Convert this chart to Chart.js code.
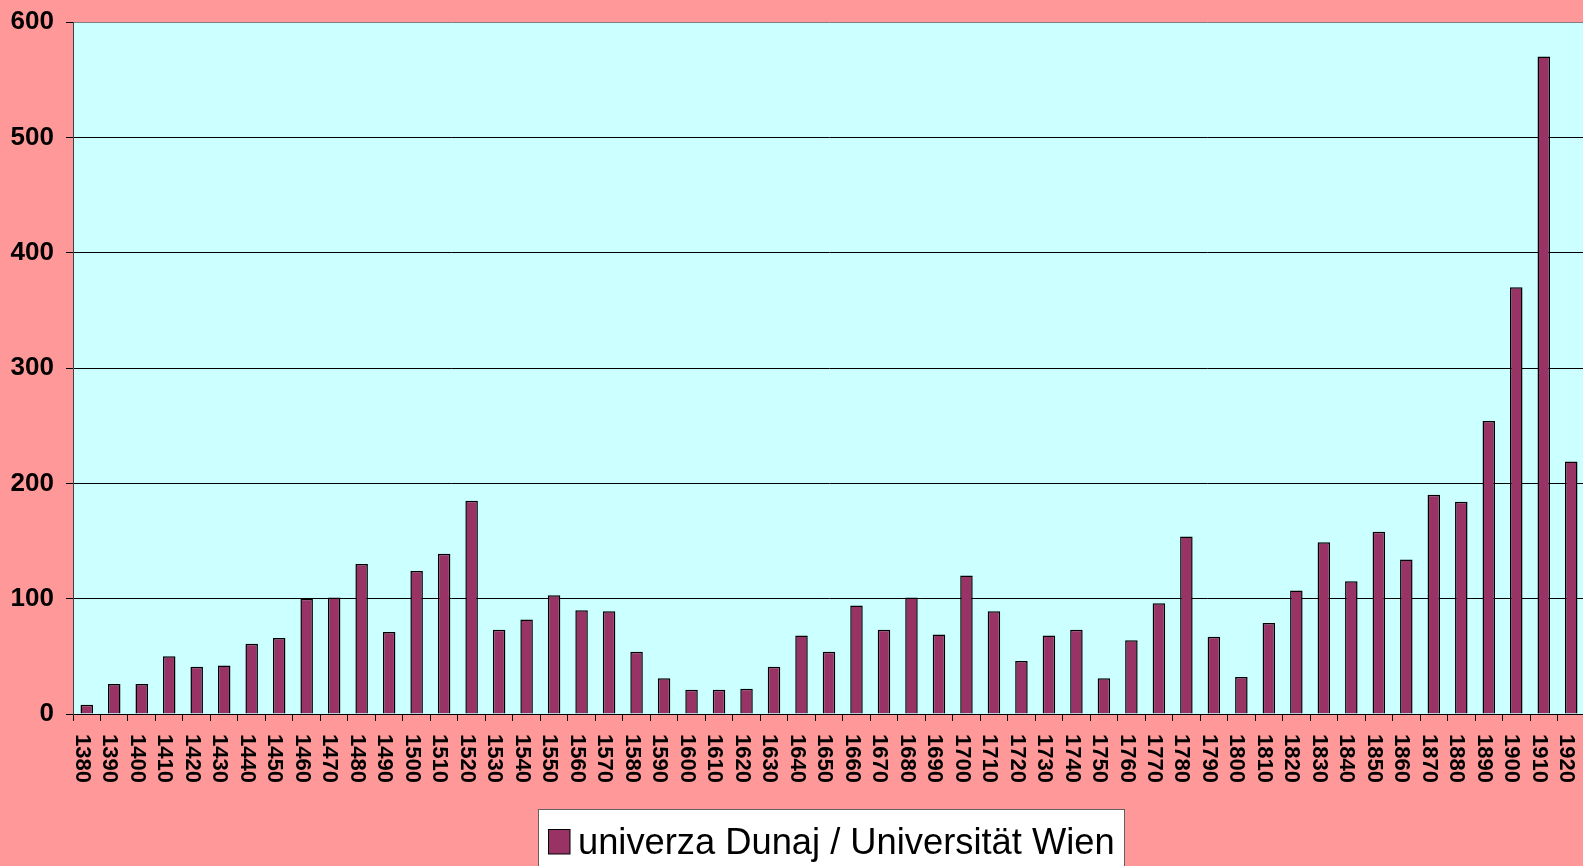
<!DOCTYPE html>
<html>
<head>
<meta charset="utf-8">
<script src="https://cdn.jsdelivr.net/npm/chart.js@4.4.1/dist/chart.umd.min.js"></script>
<style>
  html, body { margin: 0; padding: 0; overflow: hidden; background: #FF9999; }
  #wrap { width: 1600px; height: 866px; }
</style>
</head>
<body>
<div id="wrap"><canvas id="c" width="1600" height="866"></canvas></div>
<script>
const categories = ['1380','1390','1400','1410','1420','1430','1440','1450','1460','1470',
  '1480','1490','1500','1510','1520','1530','1540','1550','1560','1570',
  '1580','1590','1600','1610','1620','1630','1640','1650','1660','1670',
  '1680','1690','1700','1710','1720','1730','1740','1750','1760','1770',
  '1780','1790','1800','1810','1820','1830','1840','1850','1860','1870',
  '1880','1890','1900','1910','1920'];
const values = [8,26,26,50,41,42,61,66,100,101,
  130,71,124,139,185,73,82,103,90,89,
  54,31,21,21,22,41,68,54,94,73,
  101,69,120,89,46,68,73,31,64,96,
  154,67,32,79,107,149,115,158,134,190,
  184,254,370,570,219];
const seriesName = 'univerza Dunaj / Universität Wien';
const yTickValues = [0,100,200,300,400,500,600];

const FONT = '"Liberation Sans", Arial, sans-serif';

const bgPlugin = {
  id: 'bg',
  beforeDraw(chart) {
    const ctx = chart.ctx, a = chart.chartArea;
    ctx.save();
    ctx.fillStyle = '#FF9999';
    ctx.fillRect(0, 0, chart.width, chart.height);
    ctx.fillStyle = '#CCFFFF';
    ctx.fillRect(a.left, a.top, a.right - a.left, a.bottom - a.top);
    ctx.restore();
  }
};

const labelsPlugin = {
  id: 'xlabels',
  afterDraw(chart) {
    const ctx = chart.ctx, xs = chart.scales.x;
    ctx.save();
    ctx.font = 'bold 22px ' + FONT;
    ctx.fillStyle = '#000';
    ctx.textAlign = 'left';
    ctx.textBaseline = 'alphabetic';
    chart.data.labels.forEach((lab, i) => {
      const px = xs.getPixelForValue(i);
      ctx.save();
      ctx.translate(px - 10.9, xs.top + 20);
      ctx.rotate(Math.PI / 2);
      ctx.fillText(lab, 0, 0);
      ctx.restore();
    });
    // legend
    const ds = chart.data.datasets[0];
    const bx = 538.5, by = 809.5, bw = 586, bh = 80;
    ctx.fillStyle = '#FFFFFF';
    ctx.fillRect(bx, by, bw, bh);
    ctx.strokeStyle = '#606060';
    ctx.lineWidth = 1;
    ctx.strokeRect(bx, by, bw, bh);
    ctx.fillStyle = ds.backgroundColor;
    ctx.fillRect(548.5, 829.5, 21.5, 24.5);
    ctx.strokeStyle = '#000';
    ctx.strokeRect(548.5, 829.5, 21.5, 24.5);
    ctx.fillStyle = '#000';
    ctx.font = '36.3px ' + FONT;
    ctx.fillText(ds.label, 578, 853.5);
    ctx.restore();
  }
};

new Chart(document.getElementById('c'), {
  type: 'bar',
  data: {
    labels: categories,
    datasets: [{
      label: seriesName,
      data: values,
      backgroundColor: '#993366',
      borderColor: '#000000',
      borderWidth: 1.5,
      barPercentage: 0.455,
      categoryPercentage: 1.0
    }]
  },
  options: {
    responsive: false,
    animation: false,
    layout: { padding: { left: 0, right: 15, top: 22, bottom: 0 } },
    plugins: { legend: { display: false }, tooltip: { enabled: false } },
    scales: {
      x: {
        offset: true,
        grid: { display: true, drawOnChartArea: false, drawTicks: true, tickLength: 7, color: '#000', offset: true },
        border: { display: true, color: '#000' },
        ticks: { display: false, autoSkip: false },
        afterFit(s) { s.height = 152; s.paddingLeft = 0; s.paddingRight = 0; }
      },
      y: {
        min: 0,
        max: 600,
        afterBuildTicks(s) { s.ticks = yTickValues.map(v => ({ value: v })); },
        ticks: { stepSize: 100, color: '#000', padding: 12, font: { family: FONT, size: 26, weight: 'bold' } },
        grid: {
          color: (c) => (c.tick && c.tick.value === 600) ? '#808080' : '#000',
          tickColor: '#000',
          tickLength: 7,
          drawTicks: true
        },
        border: { display: true, color: '#404040' },
        afterFit(s) { s.width = 73; s.paddingTop = 0; s.paddingBottom = 0; }
      }
    }
  },
  plugins: [bgPlugin, labelsPlugin]
});
</script>
</body>
</html>
